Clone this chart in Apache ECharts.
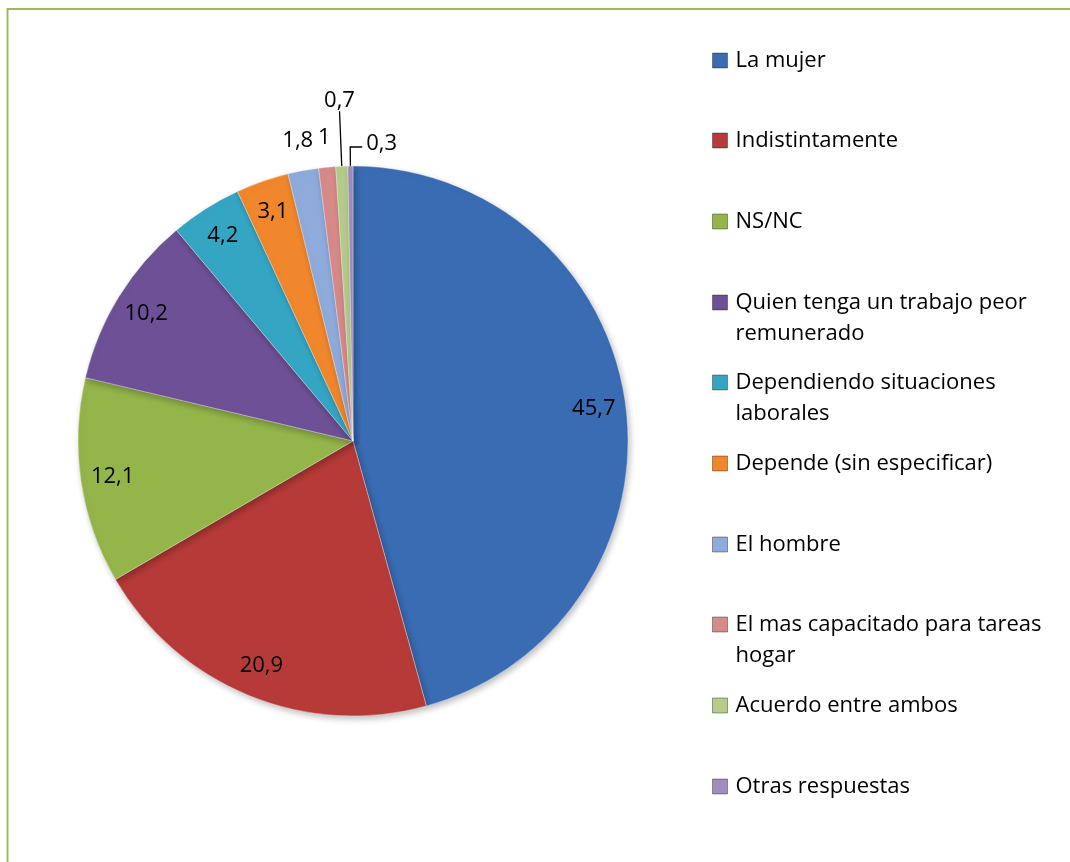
<!DOCTYPE html>
<html>
<head>
<meta charset="utf-8">
<script src="https://cdn.jsdelivr.net/npm/echarts@6/dist/echarts.min.js"></script>
<style>
  html, body { margin: 0; padding: 0; background: #fff; }
  #chart { width: 1070px; height: 862px; }
</style>
</head>
<body>
<div id="chart"></div>
<script>
// ---- data ----
const categories = [
  'La mujer',
  'Indistintamente',
  'NS/NC',
  'Quien tenga un trabajo peor remunerado',
  'Dependiendo situaciones laborales',
  'Depende (sin especificar)',
  'El hombre',
  'El mas capacitado para tareas hogar',
  'Acuerdo entre ambos',
  'Otras respuestas'
];
const values = [45.7, 20.9, 12.1, 10.2, 4.2, 3.1, 1.8, 1, 0.7, 0.3];

// ---- style ----
const colors = ['#3A6CB4', '#B63B38', '#94B54A', '#6E5096', '#34A6C3',
                '#F0872C', '#8EABDB', '#D68B89', '#B5CD8B', '#9F8DC0'];
const FONT = '"Open Sans", Lato, sans-serif';
const outsideNoLine = ['El hombre', 'El mas capacitado para tareas hogar'];
const outsideUp = ['Acuerdo entre ambos'];
const outsideRight = ['Otras respuestas'];

const CENTER = [353, 441];
const R = 275;

const fmt = p => String(p.value).replace('.', ',');

const pieData = categories.map((n, i) => ({ name: n, value: values[i], itemStyle: { color: colors[i] } }));

const labelData = categories.map((n, i) => {
  const d = { name: n, value: values[i] };
  if (outsideNoLine.includes(n)) {
    d.label = { position: 'outside', distanceToLabelLine: 0 };
    d.labelLine = { show: false, length: 30, length2: 0 };
  } else if (outsideUp.includes(n)) {
    d.label = { position: 'outside', distanceToLabelLine: 0 };
    d.labelLine = { show: true, length: 55, length2: 0 };
  } else if (outsideRight.includes(n)) {
    d.label = { position: 'outside', distanceToLabelLine: 4 };
    d.labelLine = { show: true, length: 19, length2: 12 };
  } else {
    d.label = { position: 'inside' };
  }
  return d;
});

// legend layout: one legend block per entry, evenly spaced
const LEG_FS = 22, LEG_LH = 31, LEG_W = 330;
const ctx = document.createElement('canvas').getContext('2d');
ctx.font = LEG_FS + 'px ' + FONT;
const legends = categories.map((n, i) => {
  const wraps = ctx.measureText(n).width > LEG_W;
  const centerY = 60 + i * 80.7;
  const top = wraps ? centerY - 1.5 * LEG_LH : centerY - 0.5 * LEG_LH;
  return {
    orient: 'vertical',
    left: 712,
    top: Math.round(top),
    padding: 0,
    icon: 'rect',
    itemWidth: 15,
    itemHeight: 15,
    selectedMode: false,
    formatter: nm => (wraps ? '\n' + nm : nm),
    data: [{
      name: n,
      itemStyle: { color: colors[i], borderColor: 'rgba(0,0,0,0.35)', borderWidth: 1 }
    }],
    textStyle: {
      fontFamily: FONT, fontSize: LEG_FS, lineHeight: LEG_LH, color: '#000',
      width: LEG_W, overflow: 'break', padding: [0, 0, 0, 3]
    }
  };
});

const chart = echarts.init(document.getElementById('chart'), null, { renderer: 'canvas' });
chart.setOption({
  animation: false,
  backgroundColor: '#fff',
  graphic: [{
    type: 'rect', silent: true,
    shape: { x: 7.5, y: 9, width: 1200, height: 1000 },
    style: { fill: 'none', stroke: '#9BBB59', lineWidth: 2 }
  }],
  legend: legends,
  series: [
    {
      type: 'pie',
      center: CENTER,
      radius: R,
      startAngle: 90,
      clockwise: true,
      data: pieData,
      label: { show: false },
      labelLine: { show: false },
      itemStyle: {
        borderColor: 'rgba(255,255,255,0.35)', borderWidth: 1,
        shadowBlur: 6, shadowColor: 'rgba(0,0,0,0.25)', shadowOffsetX: 2, shadowOffsetY: 3
      },
      emphasis: { disabled: true }
    },
    {
      type: 'pie',
      center: CENTER,
      radius: [205, R],
      startAngle: 90,
      clockwise: true,
      silent: true,
      avoidLabelOverlap: false,
      data: labelData,
      itemStyle: { color: 'rgba(0,0,0,0)' },
      label: {
        show: true, formatter: fmt, color: '#000',
        fontFamily: FONT, fontSize: 22
      },
      labelLine: { lineStyle: { color: '#000', width: 1.3 } },
      labelLayout: function (p) {
        const name = categories[p.dataIndex];
        if (outsideUp.includes(name)) {
          return { align: 'center', verticalAlign: 'bottom' };
        }
        if (outsideNoLine.includes(name)) {
          return { align: 'center' };
        }
        if (outsideRight.includes(name) && p.labelLinePoints) {
          const a = p.labelLinePoints[0], b = p.labelLinePoints[1], c = p.labelLinePoints[2];
          const mx = b[0] + (b[0] - c[0]);
          return {
            labelLinePoints: [a, b, [mx, c[1]]],
            x: mx + 4, y: c[1] - 3, align: 'left', verticalAlign: 'middle'
          };
        }
        return {};
      },
      emphasis: { disabled: true }
    }
  ]
});
</script>
</body>
</html>
